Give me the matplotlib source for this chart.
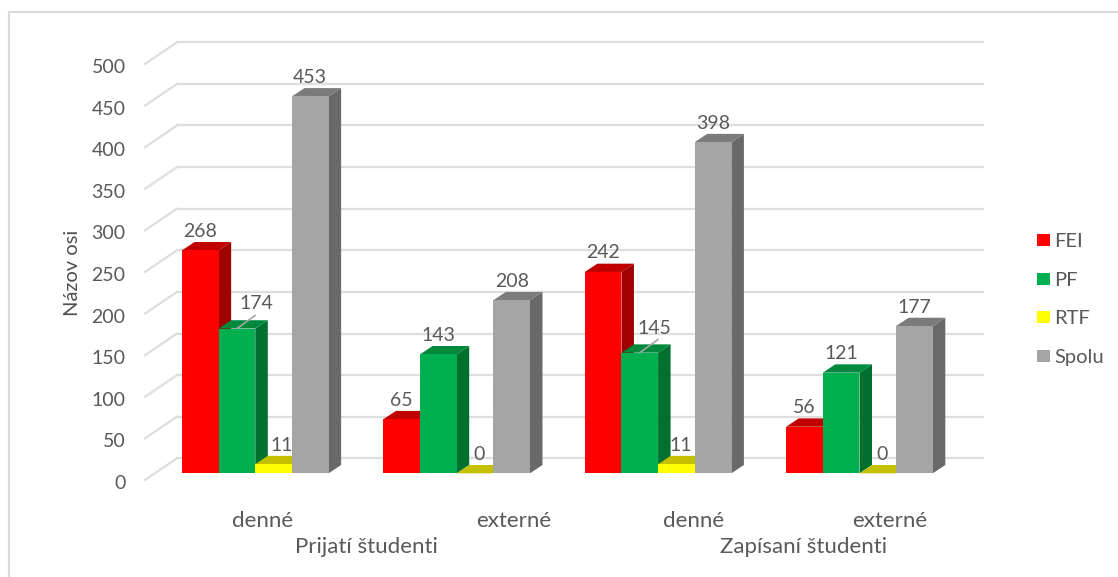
import matplotlib
matplotlib.use('Agg')
import matplotlib.pyplot as plt
from matplotlib.patches import Polygon, Patch
from matplotlib.transforms import ScaledTranslation
import numpy as np

# values
groups = ['denné', 'externé', 'denné', 'externé']
parents = ['Prijatí študenti', 'Zapísaní študenti']
series = ['FEI', 'PF', 'RTF', 'Spolu']
fei = [268, 65, 242, 56]
pf = [174, 143, 145, 121]
rtf = [11, 0, 11, 0]
spolu = [453, 208, 398, 177]
yticks = list(range(0, 501, 50))

W, H = 1118, 577

# (front, side, top) colours for each series
colors = [('#ff0000', '#a00000', '#c00000'),
          ('#00b050', '#00702f', '#00893c'),
          ('#ffff00', '#a6a600', '#c4c000'),
          ('#a5a5a5', '#696969', '#7b7b7b')]

plt.rcParams['font.family'] = ['Lato', 'DejaVu Sans']
txt = '#595959'
grid = '#dedede'

fig = plt.figure(figsize=(W / 100, H / 100), dpi=100)
fig.patch.set_facecolor('white')

# axes box = front edge of the y axis (0 at y=480px, 500 at y=64px)
ax_l, ax_r = 145., 951.
ax = fig.add_axes([ax_l / W, 1 - 480. / H, (ax_r - ax_l) / W, 416. / H])
ax.set_ylim(0, 500)
# 1 unit on x = one group step (201.4 px), group 0 centred at 255.3 px
px_x = 201.4
ax.set_xlim((ax_l - 255.3) / px_x, (ax_r - 255.3) / px_x)
for s in ax.spines.values():
    s.set_visible(False)
ax.patch.set_alpha(0)

px_y = 416. / 500
wall_dx, wall_dy = 32. / px_x, 21.7 / px_y     # side wall depth
base_dx, base_dy = 0., 6.7 / px_y              # bars stand this far in
depth_dx, depth_dy = 12.5 / px_x, 8.3 / px_y   # bar depth
bw = 36.65 / px_x

x0, x1 = ax.get_xlim()
grid_end = (983. - 255.3) / px_x
for v in yticks:
    ax.plot([x0, x0 + wall_dx], [v, v + wall_dy], color=grid, lw=1.6, clip_on=False, zorder=1)
    ax.plot([x0 + wall_dx, grid_end], [v + wall_dy, v + wall_dy], color=grid, lw=1.6, clip_on=False, zorder=1)

all_vals = [fei, pf, rtf, spolu]
# labels that Excel moved off the bar centre: (series, group) -> px
shift = {(1, 0): (19, 6), (2, 0): (8, 0), (2, 1): (4, 0),
         (1, 2): (15, 5), (2, 2): (4.5, 0), (2, 3): (4, 0)}
leaders = [(1, 0), (1, 2)]

for g in range(len(groups)):
    for i, vals in enumerate(all_vals):
        v = vals[g]
        left = g + (i - 2) * bw
        right = left + bw
        base = base_dy
        top = v + base_dy
        z = 2 + g * 10 + i
        front, side, cap = colors[i]
        # side and cap first, the next bar's front covers them
        ax.add_patch(Polygon([(right, base), (right + depth_dx, base + depth_dy),
                              (right + depth_dx, top + depth_dy), (right, top)],
                             fc=side, ec='none', clip_on=False, zorder=z))
        ax.add_patch(Polygon([(left, top), (left + depth_dx, top + depth_dy),
                              (right + depth_dx, top + depth_dy), (right, top)],
                             fc=cap, ec='none', clip_on=False, zorder=z))
        ax.bar(left, v, bw, bottom=base, align='edge', color=front, clip_on=False, zorder=z + 0.5)

        dx, dy = shift.get((i, g), (0, 0))
        ax.annotate(str(v), ((left + right) / 2, top), xytext=(dx * .72, (19. + dy) * .72),
                    textcoords='offset points', ha='center', va='center',
                    fontsize=14, color=txt, zorder=100, annotation_clip=False)
        if (i, g) in leaders:
            ax.plot([(left + right) / 2, (left + right) / 2 + 19 / px_x * .95],
                    [top, top + 13 / px_y], color='#a6a6a6', lw=1.2, clip_on=False, zorder=99)

ax.set_yticks(yticks)
ax.tick_params(axis='y', length=0, pad=14, labelsize=14, labelcolor=txt)
# Lato sits higher than the original font
for lab in ax.get_yticklabels():
    lab.set_transform(lab.get_transform() + ScaledTranslation(0, -1.5 / 72, fig.dpi_scale_trans))
ax.set_ylabel('Názov osi', fontsize=14.5, color='#505050')
ax.yaxis.set_label_coords((81 - ax_l) / (ax_r - ax_l), (480 - 273.) / 416)

# category labels sit where the picture has them, not under the group centres
lab_px = [262.5, 513.5, 693.5, 889.5]
ax.set_xticks([(p - 255.3) / px_x for p in lab_px])
ax.set_xticklabels(groups)
ax.tick_params(axis='x', length=0, pad=22, labelsize=16, labelcolor=txt)
for p, name in zip([366., 804.], parents):
    ax.annotate(name, ((p - 255.3) / px_x, 0), xytext=(0, -(547 - 480) * .72),
                textcoords='offset points', ha='center', va='center',
                fontsize=16, color=txt, annotation_clip=False)

leg = fig.legend(handles=[Patch(fc=c[0], ec='none', label=s) for c, s in zip(colors, series)],
                 loc='upper left', bbox_to_anchor=(1037. / W, 1 - 233. / H), frameon=False,
                 fontsize=14.5, labelcolor=txt, handlelength=0.65, handleheight=0.55,
                 handletextpad=0.2, labelspacing=1.08, borderpad=0, borderaxespad=0)

# outer chart frame, cut off by the crop on the right and at the bottom
fig.add_artist(plt.Line2D([9. / W, 9. / W, 1], [0, 1 - 12. / H, 1 - 12. / H], color='#d9d9d9', lw=1.6))

fig.savefig('out.png', dpi=100)
